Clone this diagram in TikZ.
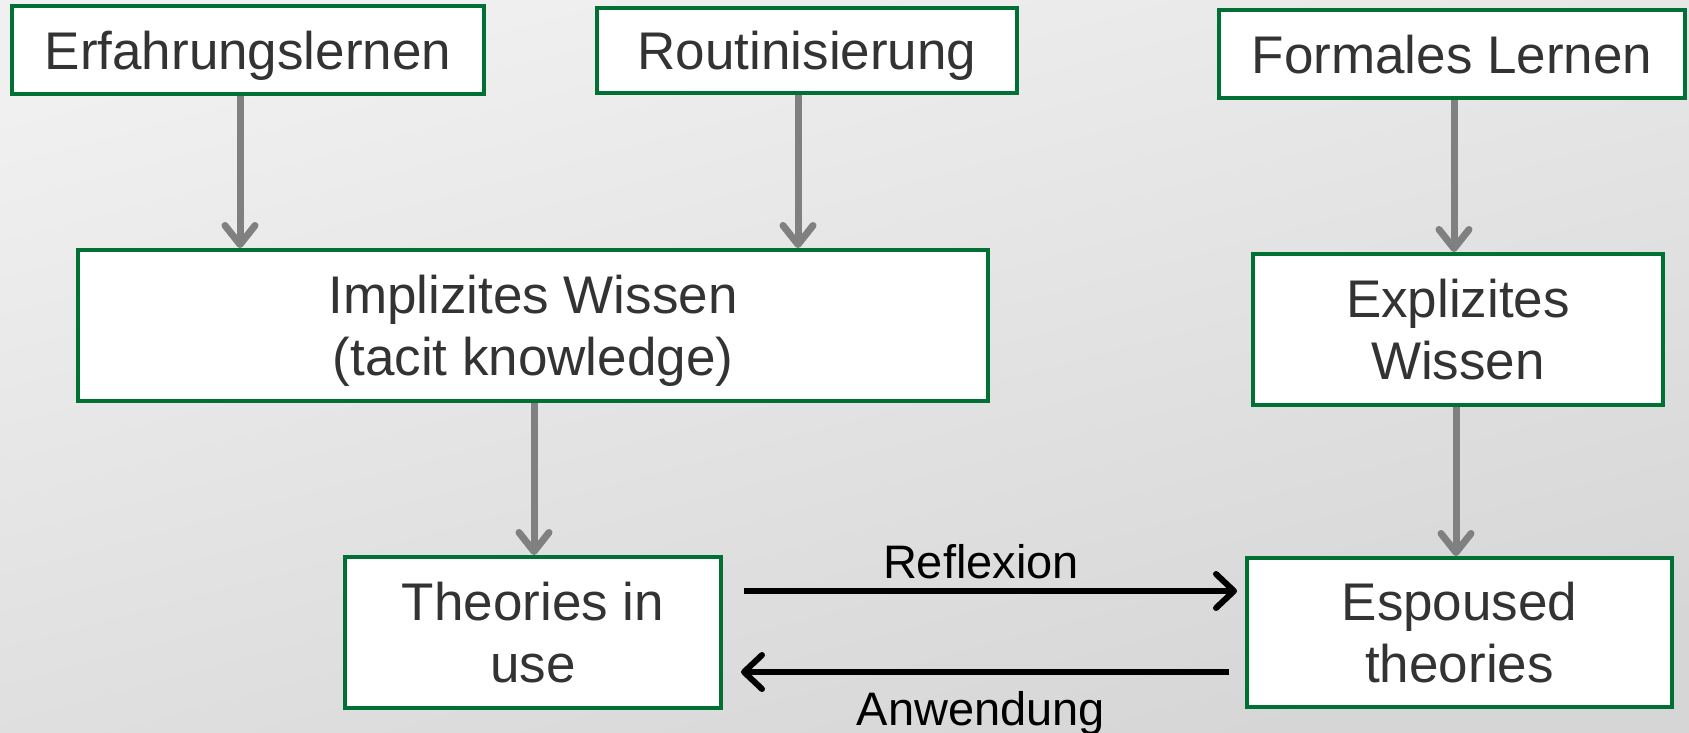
\documentclass[tikz,border=0pt]{standalone}
\usepackage{fontspec}
\setmainfont{Liberation Sans}
\usetikzlibrary{arrows.meta}
\definecolor{boxgreen}{RGB}{0,112,52}
\definecolor{txtgray}{RGB}{51,51,51}
\definecolor{arrgray}{RGB}{128,128,128}
\definecolor{bgtop}{RGB}{240,240,240}
\definecolor{bgbot}{RGB}{214,214,214}
\tikzset{
  kbox/.style={draw=boxgreen, line width=4pt, fill=white, text=txtgray,
    align=center, inner sep=0pt, text depth=0pt, font=\fontsize{53pt}{62pt}\selectfont},
  garrow/.style={draw=arrgray, line width=7pt,
    -{Straight Barb[length=19pt,width=30pt,round]}},
  karrow/.style={draw=black, line width=6pt,
    -{Straight Barb[length=18pt,width=34pt,round]}},
  lbl/.style={text=black, inner sep=0pt, font=\fontsize{47pt}{54pt}\selectfont}
}
\begin{document}
\begin{tikzpicture}[x=1pt,y=-1pt]
\useasboundingbox (0,0) rectangle (1689,733);
\shade[shading=axis, top color=bgtop, bottom color=bgbot, shading angle=15] (0,0) rectangle (1689,733);
% boxes
\node[kbox, minimum width=472pt, minimum height=88pt] (erf) at (248,50) {Erfahrungslernen};
\node[kbox, minimum width=420pt, minimum height=85pt] (rout) at (807,50.5) {Routinisierung};
\node[kbox, minimum width=466pt, minimum height=88pt] (form) at (1452,54) {Formales Lernen};
\node[kbox, minimum width=910pt, minimum height=151pt] (impl) at (533,325.5) {Implizites Wissen\\(tacit knowledge)};
\node[kbox, minimum width=410pt, minimum height=151pt] (expl) at (1458,329.5) {Explizites\\Wissen};
\node[kbox, minimum width=376pt, minimum height=151pt] (theo) at (533,632.5) {Theories in\\use};
\node[kbox, minimum width=425pt, minimum height=149pt] (esp) at (1459.5,632.5) {Espoused\\theories};
% gray arrows
\draw[garrow] ([xshift=-8pt]erf.south) -- ([xshift=-8pt]erf.south |- impl.north);
\draw[garrow] ([xshift=-9pt]rout.south) -- ([xshift=-9pt]rout.south |- impl.north);
\draw[garrow] ([xshift=2pt]form.south) -- ([xshift=2pt]form.south |- expl.north);
\draw[garrow] ([xshift=1pt]impl.south) -- ([xshift=1pt]impl.south |- theo.north);
\draw[garrow] ([xshift=-2pt]expl.south) -- ([xshift=-2pt]expl.south |- esp.north);
% black arrows
\draw[karrow] ([shift={(21,-41.5)}]theo.east) -- ([shift={(-8,-41.5)}]esp.west);
\draw[karrow] ([shift={(-16,39.5)}]esp.west) -- ([shift={(18,39.5)}]theo.east);
% labels
\node[lbl, anchor=base] (refl) at (981,578) {Reflexion};
\node[lbl, anchor=base] (anw) at (981,725) {Anwendung};
\end{tikzpicture}
\end{document}
